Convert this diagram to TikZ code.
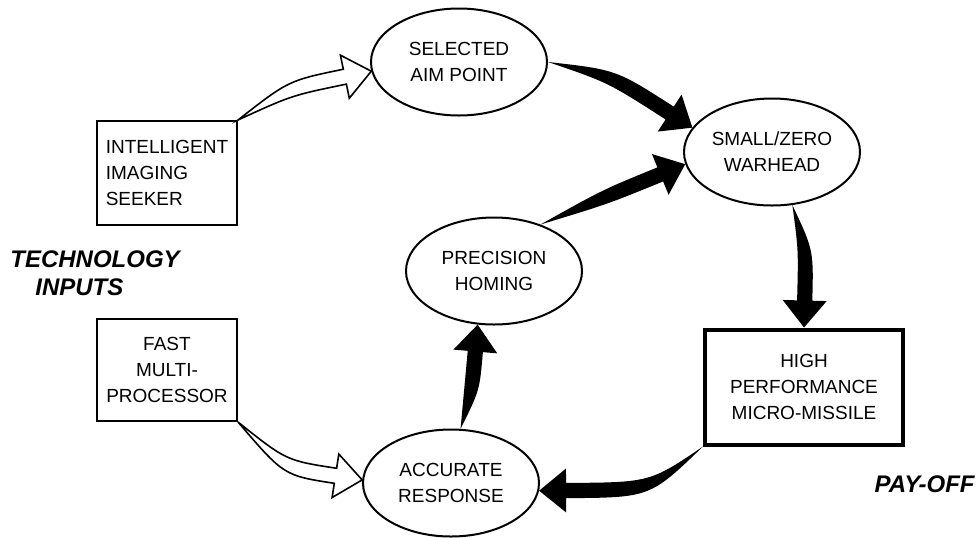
\documentclass[tikz,border=0pt]{standalone}
\usepackage{fontspec}
\setmainfont{Liberation Sans}
\usetikzlibrary{calc,shapes.geometric}

% tapered curved arrow: start, control point, tip
\newcommand{\fatarrow}[4][fill]{%
  \coordinate (hb) at ($(#4)!13.5pt!(#3)$);
  \path[#1] (#2) .. controls ($(#3)!3.8pt!90:(#4)$) .. ($(hb)!3.8pt!90:(#4)$)
    -- ($(hb)!11pt!90:(#4)$) -- (#4) -- ($(hb)!11pt!-90:(#4)$)
    -- ($(hb)!3.8pt!-90:(#4)$) .. controls ($(#3)!3.8pt!-90:(#4)$) .. (#2) -- cycle;
}

\tikzset{
  idea/.style={draw, line width=1pt, ellipse, minimum width=88pt, minimum height=53.5pt,
    inner sep=0pt, align=center, font=\fontsize{9.5}{13}\selectfont},
  input/.style={draw, line width=1pt, rectangle, minimum width=70pt, minimum height=52pt,
    inner sep=4pt, font=\fontsize{9.5}{13}\selectfont},
  heading/.style={font=\fontsize{12}{14}\selectfont\bfseries\itshape, inner sep=0pt, align=left},
  hollow/.style={draw, fill=white, line width=0.8pt, line join=miter},
}

\begin{document}
\begin{tikzpicture}[x=0.5pt, y=-0.5pt]
\useasboundingbox (0,0) rectangle (980,537);

\node[idea] (aim) at (459,62) {SELECTED\\AIM POINT};
\node[idea] (warhead) at (772,152) {SMALL/ZERO\\WARHEAD};
\node[idea] (homing) at (494,271) {PRECISION\\HOMING};
\node[idea] (response) at (451,483) {ACCURATE\\RESPONSE};

\node[input, align=left, anchor=north east] (seeker) at (238,120) {INTELLIGENT\\IMAGING\\SEEKER};
\node[input, align=center, anchor=north east, minimum height=51pt] (processor) at (238,318) {FAST\\MULTI-\\PROCESSOR};
\node[input, align=center, line width=2pt, minimum width=99pt, minimum height=57.5pt] (missile) at (804,387) {HIGH\\PERFORMANCE\\MICRO-MISSILE};

\node[heading, anchor=north west] (tech) at (10,250) {TECHNOLOGY\\\hspace*{12.5pt}INPUTS};
\node[heading, anchor=north east] (payoff) at (975,475) {PAY-OFF};

% loop arrows
\fatarrow{aim.east}{612,76}{warhead.163}
\fatarrow{homing.45}{605,197}{warhead.188}
\fatarrow{warhead.-69}{806,250}{missile.north}
\fatarrow{missile.south west}{650,490}{response.-5}
\fatarrow{response.80}{472,390}{homing.253}

% input arrows
\fatarrow[hollow]{seeker.north east}{290,88}{aim.186}
\fatarrow[hollow]{processor.south east}{285,468}{response.178}
\end{tikzpicture}
\end{document}
